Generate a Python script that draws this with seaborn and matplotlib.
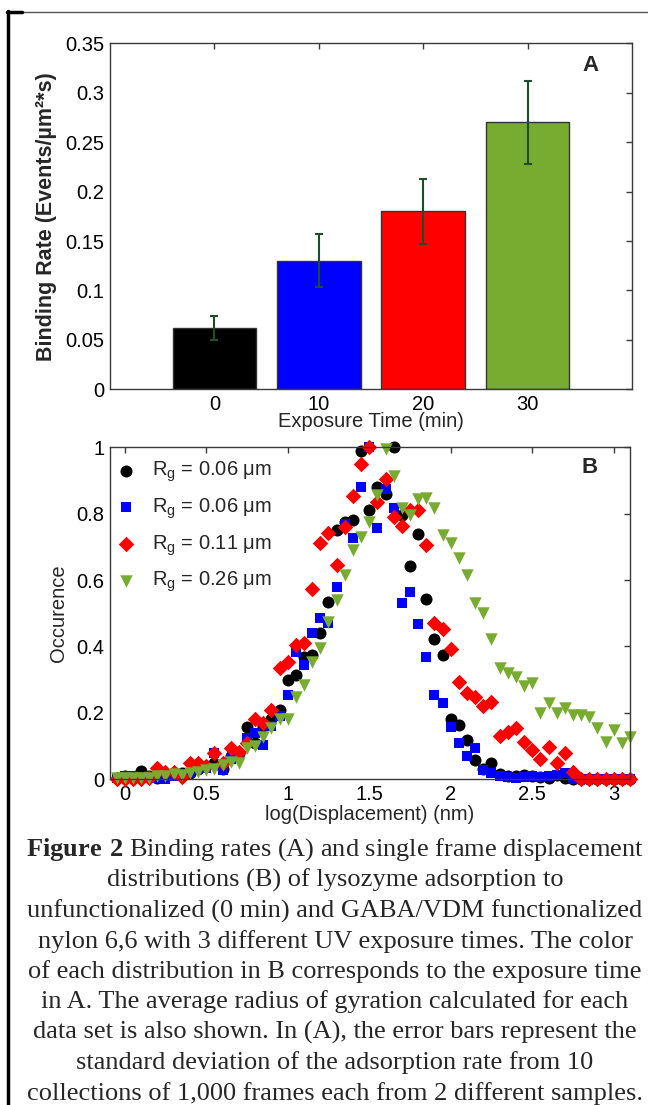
import matplotlib
matplotlib.use('Agg')
import matplotlib.pyplot as plt
import numpy as np
import pandas as pd
import seaborn as sns
from matplotlib.lines import Line2D
from matplotlib.ticker import FormatStrFormatter

sns.set_theme(context='paper', style='white')
plt.rcParams['font.family'] = ['Liberation Sans', 'DejaVu Sans']
plt.rcParams['mathtext.fontset'] = 'custom'
plt.rcParams['mathtext.rm'] = 'Liberation Serif'
plt.rcParams['mathtext.bf'] = 'Liberation Serif:bold'
plt.rcParams['mathtext.sf'] = 'Liberation Sans'

# Panel A: binding rate per UV exposure time
exposure = ['0', '10', '20', '30']
rate = [0.062, 0.130, 0.180, 0.270]
rate_sd = [0.012, 0.027, 0.033, 0.042]
bar_colors = ['#000000', '#0000ff', '#ff0000', '#77ac30']

# Panel B: displacement distributions
log_disp = [-0.05, 0.00, 0.05, 0.10, 0.15, 0.20, 0.25, 0.30, 0.35, 0.40,
            0.45, 0.50, 0.55, 0.60, 0.65, 0.70, 0.75, 0.80, 0.85, 0.90,
            0.95, 1.00, 1.05, 1.10, 1.15, 1.20, 1.25, 1.30, 1.35, 1.40,
            1.45, 1.50, 1.55, 1.60, 1.65, 1.70, 1.75, 1.80, 1.85, 1.90,
            1.95, 2.00, 2.05, 2.10, 2.15, 2.20, 2.25, 2.30, 2.35, 2.40,
            2.45, 2.50, 2.55, 2.60, 2.65, 2.70, 2.75, 2.80, 2.85, 2.90,
            2.95, 3.00, 3.05, 3.10]
occ_0min = [0.005, 0.01, 0.005, 0.025, 0.01, 0.005, 0.01, 0.02, 0.02, 0.02,
            0.03, 0.04, 0.05, 0.03, 0.07, 0.08, 0.158, 0.11, 0.16, 0.18,
            0.209, 0.299, 0.314, 0.369, 0.374, 0.442, 0.535, 0.751, 0.776, 0.781,
            0.99, 0.811, 0.881, 0.86, 1.0, 0.796, 0.642, 0.738, 0.542, 0.422,
            0.374, 0.181, 0.164, 0.118, 0.058, 0.03, 0.048, 0.015, 0.01, 0.01,
            0.012, 0.01, 0.008, 0.005, 0.012, 0.005, 0.0, 0.0, 0.0, 0.0,
            0.0, 0.0, 0.0, 0.0]
occ_10min = [0.005, 0.01, 0.01, 0.005, 0.01, 0.005, 0.0, 0.01, 0.015, 0.02,
             0.03, 0.035, 0.079, 0.028, 0.06, 0.07, 0.123, 0.139, 0.103, 0.16,
             0.19, 0.254, 0.384, 0.344, 0.442, 0.485, 0.472, 0.58, 0.77, 0.726,
             0.88, 1.0, 0.756, 0.873, 0.816, 0.53, 0.565, 0.468, 0.367, 0.254,
             0.229, 0.158, 0.108, 0.07, 0.093, 0.028, 0.02, 0.01, 0.008, 0.005,
             0.008, 0.01, 0.008, 0.01, 0.012, 0.02, 0.0, 0.0, 0.0, 0.0,
             0.0, 0.0, 0.0, 0.0]
occ_20min = [0.0, 0.0, 0.0, 0.0, 0.005, 0.035, 0.023, 0.023, 0.008, 0.048,
             0.048, 0.04, 0.078, 0.05, 0.093, 0.083, 0.11, 0.18, 0.17, 0.209,
             0.334, 0.354, 0.405, 0.41, 0.572, 0.711, 0.741, 0.645, 0.759, 0.852,
             0.95, 1.0, 0.836, 0.904, 0.791, 0.763, 0.811, 0.811, 0.706, 0.472,
             0.452, 0.392, 0.294, 0.259, 0.249, 0.221, 0.234, 0.13, 0.143, 0.154,
             0.113, 0.088, 0.06, 0.098, 0.048, 0.078, 0.023, 0.0, 0.0, 0.0,
             0.0, 0.0, 0.0, 0.0]
occ_30min = [0.005, 0.005, 0.005, 0.005, 0.005, 0.01, 0.01, 0.015, 0.013, 0.02,
             0.023, 0.028, 0.03, 0.043, 0.053, 0.048, 0.093, 0.10, 0.128, 0.153,
             0.18, 0.18, 0.249, 0.284, 0.354, 0.394, 0.475, 0.54, 0.615, 0.691,
             0.731, 0.776, 0.856, 0.994, 0.914, 0.816, 0.796, 0.843, 0.846, 0.816,
             0.736, 0.713, 0.666, 0.615, 0.53, 0.502, 0.422, 0.334, 0.319, 0.309,
             0.281, 0.291, 0.199, 0.231, 0.201, 0.214, 0.194, 0.194, 0.189, 0.154,
             0.113, 0.148, 0.108, 0.128]
rg_labels = ['0.06', '0.06', '0.11', '0.26']

caption = [
    r'$\mathbf{Figure\ 2}$ Binding rates (A) and single frame displacement',
    'distributions (B) of lysozyme adsorption to',
    'unfunctionalized (0 min) and GABA/VDM functionalized',
    'nylon 6,6 with 3 different UV exposure times. The color',
    'of each distribution in B corresponds to the exposure time',
    'in A. The average radius of gyration calculated for each',
    'data set is also shown. In (A), the error bars represent the',
    'standard deviation of the adsorption rate from 10',
    'collections of 1,000 frames each from 2 different samples.',
]

FS = 14.5
SPINE = '#3a3a3a'


def matlab_axes(ax):
    for s in ax.spines.values():
        s.set_visible(True)
        s.set_color(SPINE)
        s.set_linewidth(1.0)
    ax.tick_params(direction='in', top=True, right=True, length=4, width=1,
                   color=SPINE, labelsize=FS, labelcolor='black', pad=4)


fig = plt.figure(figsize=(6.48, 11.05), dpi=100)

# ---- panel A
axA = fig.add_axes([0.1698, 0.6477, 0.8056, 0.3131])
sns.barplot(x=exposure, y=rate, hue=exposure, palette=bar_colors, width=0.8,
            saturation=1, edgecolor='#333333', linewidth=1, errorbar=None,
            legend=False, ax=axA)
axA.errorbar(np.arange(len(rate)), rate, yerr=rate_sd, fmt='none',
             ecolor='#1e4d2b', elinewidth=1.5, capsize=3, capthick=1.5)
axA.set_xlim(-1, 4)
axA.set_ylim(0, 0.35)
axA.set_yticks(np.arange(0, 0.351, 0.05))
axA.yaxis.set_major_formatter(FormatStrFormatter('%g'))
matlab_axes(axA)
axA.set_ylabel('Binding Rate (Events/µm²*s)', fontsize=15.5, fontweight='bold',
               labelpad=6)
axA.set_xlabel('Exposure Time (min)', fontsize=FS, labelpad=-1)
axA.text(0.92, 0.937, 'A', transform=axA.transAxes, fontsize=16,
         fontweight='bold', ha='center', va='center')

# ---- panel B
axB = fig.add_axes([0.1698, 0.2948, 0.8025, 0.3004])
series = [
    (occ_0min, 'o', '#000000', 75),
    (occ_10min, 's', '#0000ff', 52),
    (occ_20min, 'D', '#ff0000', 62),
    (occ_30min, 'v', '#77ac30', 80),
]
for (occ, mk, col, size), rg in zip(series, rg_labels):
    sns.scatterplot(x=log_disp, y=occ, marker=mk, color=col, s=size,
                    linewidth=0, label=r'R$_{\mathsf{g}}$ = ' + rg + ' μm',
                    ax=axB)
for coll in axB.collections:
    coll.set_clip_on(False)
axB.set_xlim(-0.09, 3.1)
axB.set_ylim(0, 1)
axB.set_xticks(np.arange(0, 3.01, 0.5))
axB.set_yticks(np.arange(0, 1.01, 0.2))
axB.xaxis.set_major_formatter(FormatStrFormatter('%g'))
axB.yaxis.set_major_formatter(FormatStrFormatter('%g'))
matlab_axes(axB)
axB.set_ylabel('Occurence', fontsize=FS, labelpad=6)
axB.set_xlabel('log(Displacement) (nm)', fontsize=FS, labelpad=1)
axB.text(0.923, 0.938, 'B', transform=axB.transAxes, fontsize=16,
         fontweight='bold', ha='center', va='center')
axB.legend(loc='upper left', bbox_to_anchor=(0.0, 0.98), frameon=False,
           fontsize=FS, handlelength=1.0, handletextpad=0.8,
           labelspacing=0.6, borderaxespad=0, borderpad=0.3)

# ---- caption
for i, line in enumerate(caption):
    fig.text(0.517, 1 - (850 + 30.4 * i) / 1105, line, ha='center',
             va='center', fontsize=19, family='Liberation Serif')

# ---- page frame
fig.add_artist(Line2D([8 / 648, 1.0], [1 - 12 / 1105] * 2, color='#555555',
                      linewidth=1.0, transform=fig.transFigure))
fig.add_artist(Line2D([8 / 648, 8 / 648], [0, 1 - 11 / 1105], color='black',
                      linewidth=2.5, transform=fig.transFigure))
fig.add_artist(Line2D([7 / 648, 22 / 648], [1 - 12 / 1105] * 2, color='black',
                      linewidth=2.5, transform=fig.transFigure))

fig.savefig('out.png', dpi=100)
